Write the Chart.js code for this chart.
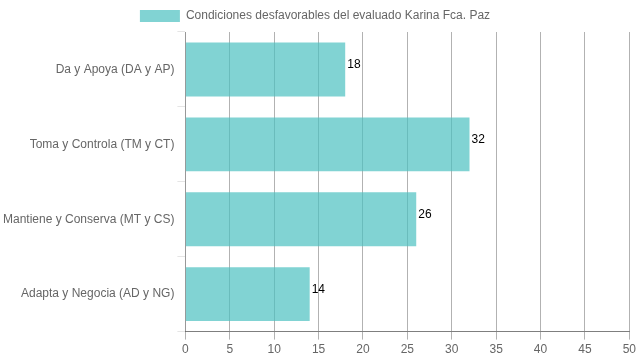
<!DOCTYPE html>
<html>
<head>
<meta charset="utf-8">
<script src="https://cdn.jsdelivr.net/npm/chart.js@4.4.0/dist/chart.umd.min.js"></script>
<style>
  html, body { margin: 0; padding: 0; background: #fff; }
  #wrap { width: 639px; height: 360px; }
</style>
</head>
<body>
<div id="wrap"><canvas id="chart"></canvas></div>
<script>
const categories = [
  'Da y Apoya (DA y AP)',
  'Toma y Controla (TM y CT)',
  'Mantiene y Conserva (MT y CS)',
  'Adapta y Negocia (AD y NG)'
];
const seriesLabel = 'Condiciones desfavorables del evaluado Karina Fca. Paz';
const values = [18, 32, 26, 14];

// draws the value just past the end of each bar
const valueLabels = {
  id: 'valueLabels',
  afterDatasetsDraw(chart) {
    const ctx = chart.ctx;
    ctx.save();
    ctx.font = '12px "Liberation Sans", Arial, sans-serif';
    ctx.fillStyle = '#000';
    ctx.textBaseline = 'alphabetic';
    ctx.textAlign = 'left';
    chart.getDatasetMeta(0).data.forEach((bar, i) => {
      ctx.fillText(String(chart.data.datasets[0].data[i]), bar.x + 2, bar.y - 1);
    });
    ctx.restore();
  }
};

Chart.defaults.font.family = '"Liberation Sans", Arial, sans-serif';
Chart.defaults.font.size = 12;
Chart.defaults.color = '#666';

new Chart(document.getElementById('chart').getContext('2d'), {
  type: 'bar',
  data: {
    labels: categories,
    datasets: [{
      label: seriesLabel,
      data: values,
      backgroundColor: 'rgba(75, 192, 192, 0.7)',
      borderColor: 'rgba(0, 0, 0, 0.1)',
      borderWidth: 0
    }]
  },
  options: {
    indexAxis: 'y',
    responsive: true,
    maintainAspectRatio: false,
    animation: false,
    layout: { padding: { right: 9 } },
    plugins: {
      legend: {
        labels: { boxWidth: 40, boxHeight: 12, color: '#666' }
      },
      tooltip: { enabled: false }
    },
    scales: {
      x: {
        min: 0,
        max: 50,
        ticks: { stepSize: 5, color: '#666' },
        grid: { color: 'rgba(0, 0, 0, 0.3)' },
        border: { color: 'rgba(0, 0, 0, 0.5)' }
      },
      y: {
        ticks: { color: '#666' },
        grid: { drawOnChartArea: false, color: 'rgba(0, 0, 0, 0.1)' },
        border: { color: 'rgba(0, 0, 0, 0.15)' }
      }
    }
  },
  plugins: [valueLabels]
});
</script>
</body>
</html>
